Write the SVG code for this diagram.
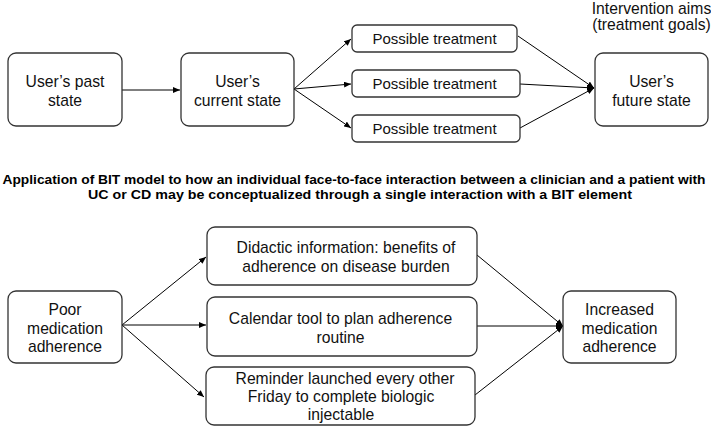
<svg xmlns="http://www.w3.org/2000/svg" width="711" height="427" viewBox="0 0 711 427">
<defs>
<style>
.box{fill:#fff;stroke:#333;stroke-width:1.3}
.t{font-family:"Liberation Sans",Arial,sans-serif;font-size:15.7px;fill:#111;text-anchor:middle}
.tt{font-size:15px}
.title{font-family:"Liberation Sans",Arial,sans-serif;font-size:12.5px;font-weight:bold;fill:#000;text-anchor:middle}
.c{stroke:#000;stroke-width:1;fill:none;marker-end:url(#ah)}
</style>
<marker id="ah" markerUnits="userSpaceOnUse" markerWidth="8" markerHeight="6" refX="7" refY="3" orient="auto">
<path d="M0,0 L7,3 L0,6 Z" fill="#000"/>
</marker>
</defs>
<rect width="711" height="427" fill="#fff"/>

<g id="connectors">
<line class="c" x1="122" y1="90" x2="180" y2="90"/>
<line class="c" x1="294" y1="89" x2="351" y2="39"/>
<line class="c" x1="294" y1="89" x2="351" y2="84"/>
<line class="c" x1="294" y1="89" x2="351" y2="128"/>
<line class="c" x1="518" y1="36" x2="594" y2="88"/>
<line class="c" x1="520" y1="84" x2="594" y2="88"/>
<line class="c" x1="520" y1="128" x2="594" y2="88"/>
<line class="c" x1="122" y1="325" x2="206" y2="257"/>
<line class="c" x1="122" y1="325" x2="206" y2="325"/>
<line class="c" x1="122" y1="325" x2="204" y2="397"/>
<line class="c" x1="477" y1="255" x2="563" y2="326"/>
<line class="c" x1="477" y1="326" x2="563" y2="326"/>
<line class="c" x1="475" y1="395" x2="563" y2="326"/>
</g>

<g id="past">
<rect class="box" x="8" y="53" width="114" height="73" rx="8"/>
<text class="t" x="65" y="87">User’s past</text>
<text class="t" x="65" y="106">state</text>
</g>
<g id="current">
<rect class="box" x="181" y="53" width="113" height="73" rx="8"/>
<text class="t" x="237.5" y="87">User’s</text>
<text class="t" x="237.5" y="106">current state</text>
</g>
<g id="treat1">
<rect class="box" x="352" y="25" width="165" height="27" rx="5"/>
<text class="t tt" x="434.5" y="44">Possible treatment</text>
</g>
<g id="treat2">
<rect class="box" x="352" y="70" width="168" height="27" rx="5"/>
<text class="t tt" x="434.5" y="89">Possible treatment</text>
</g>
<g id="treat3">
<rect class="box" x="352" y="115" width="168" height="27" rx="5"/>
<text class="t tt" x="434.5" y="134">Possible treatment</text>
</g>
<g id="future">
<rect class="box" x="595" y="53" width="113" height="73" rx="8"/>
<text class="t" x="651.5" y="87">User’s</text>
<text class="t" x="651.5" y="106">future state</text>
</g>
<g id="aims">
<text class="t" x="651.5" y="14">Intervention aims</text>
<text class="t" x="651.5" y="30">(treatment goals)</text>
</g>

<g id="title">
<text class="title" x="354" y="184" textLength="703" lengthAdjust="spacingAndGlyphs">Application of BIT model to how an individual face-to-face interaction between a clinician and a patient with</text>
<text class="title" x="360" y="199" textLength="544" lengthAdjust="spacingAndGlyphs">UC or CD may be conceptualized through a single interaction with a BIT element</text>
</g>

<g id="poor">
<rect class="box" x="8" y="291" width="114" height="72" rx="8"/>
<text class="t" x="65" y="315">Poor</text>
<text class="t" x="65" y="333.5">medication</text>
<text class="t" x="65" y="352">adherence</text>
</g>
<g id="didactic">
<rect class="box" x="207" y="227" width="270" height="58" rx="8"/>
<text class="t" x="346" y="253">Didactic information: benefits of</text>
<text class="t" x="346" y="272">adherence on disease burden</text>
</g>
<g id="calendar">
<rect class="box" x="207" y="297" width="270" height="59" rx="8"/>
<text class="t" x="340.5" y="324">Calendar tool to plan adherence</text>
<text class="t" x="340.5" y="343">routine</text>
</g>
<g id="reminder">
<rect class="box" x="206" y="367" width="269" height="58" rx="8"/>
<text class="t" x="345" y="384">Reminder launched every other</text>
<text class="t" x="341" y="402">Friday to complete biologic</text>
<text class="t" x="341" y="420">injectable</text>
</g>
<g id="increased">
<rect class="box" x="563" y="291" width="113" height="72" rx="8"/>
<text class="t" x="619.5" y="315">Increased</text>
<text class="t" x="619.5" y="333.5">medication</text>
<text class="t" x="619.5" y="352">adherence</text>
</g>
</svg>
